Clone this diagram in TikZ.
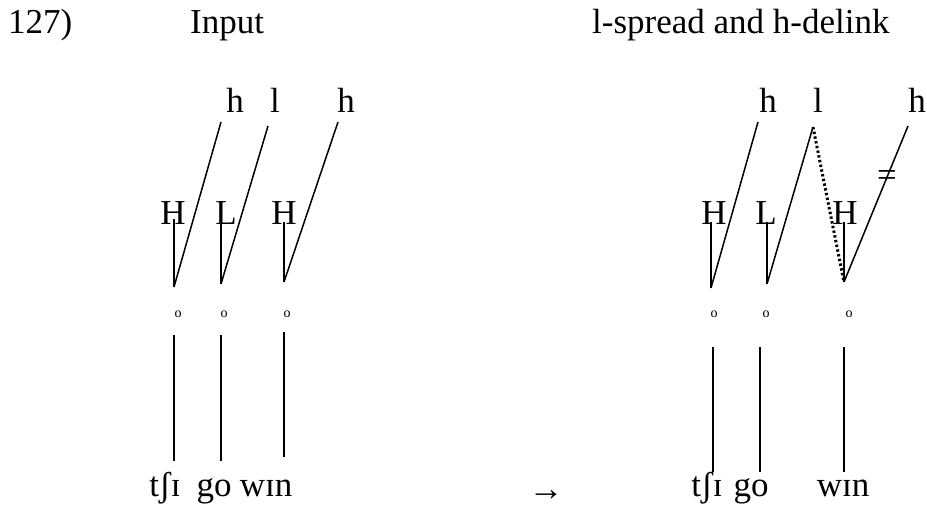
\documentclass[tikz,border=0pt]{standalone}
\usepackage{fontspec}
\setmainfont{Liberation Serif}
\usetikzlibrary{positioning}

\begin{document}
\begin{tikzpicture}[
  x=1pt,y=-1pt,
  lbl/.style={inner sep=0pt, anchor=base, font=\fontsize{35}{38}\selectfont},
  syl/.style={inner sep=0pt, anchor=base, font=\fontsize{14}{16}\selectfont},
  assoc/.style={line width=1.5pt},
  spread/.style={line width=3pt, dash pattern=on 2.4pt off 2.4pt}
]
\useasboundingbox (0,0) rectangle (927,506);
\node[lbl, anchor=base west] (num) at (8,33) {127)};
\node[lbl, anchor=base west] (input) at (190,33) {Input};
\node[lbl, anchor=base west] (output) at (592,33) {l-spread and h-delink};

\node[lbl] (ha) at (235,112) {h};
\node[lbl] (la) at (275,112) {l};
\node[lbl] (hb) at (346,112) {h};
\node[lbl] (Ha) at (173,224) {H};
\node[lbl] (La) at (226,224) {L};
\node[lbl] (Hb) at (284,224) {H};
\coordinate (ta) at (221,122); \coordinate (tb) at (268,126); \coordinate (tc) at (338,122);
\coordinate (ua) at (174,219); \coordinate (ub) at (221,217); \coordinate (uc) at (284,222);
\coordinate (ja) at (174,287); \coordinate (jb) at (221,284); \coordinate (jc) at (284,282);
\draw[assoc] (ta) -- (ja); \draw[assoc] (tb) -- (jb); \draw[assoc] (tc) -- (jc);
\draw[assoc] (ua) -- (ja); \draw[assoc] (ub) -- (jb); \draw[assoc] (uc) -- (jc);
\node[syl] (sa) at (178,317) {o};
\node[syl] (sb) at (224,317) {o};
\node[syl] (sc) at (287,317) {o};
\coordinate (pa) at (174,335); \coordinate (pb) at (221,335); \coordinate (pc) at (284,332);
\coordinate (qa) at (174,461); \coordinate (qb) at (221,461); \coordinate (qc) at (284,457);
\draw[assoc] (pa) -- (qa); \draw[assoc] (pb) -- (qb); \draw[assoc] (pc) -- (qc);
\node[lbl] (wa) at (165,496) {tʃɪ};
\node[lbl] (wb) at (214,496) {go};
\node[lbl] (wc) at (266,496) {wɪn};

\node[lbl] (arrow) at (546,500) {→};

\node[lbl] (hc) at (768,112) {h};
\node[lbl] (lb) at (818,112) {l};
\node[lbl] (hd) at (917,112) {h};
\node[lbl] (Hc) at (714,224) {H};
\node[lbl] (Lb) at (766,224) {L};
\node[lbl] (Hd) at (845,224) {H};
\coordinate (td) at (758,122); \coordinate (te) at (813,127); \coordinate (tf) at (908,126);
\coordinate (ud) at (711,222); \coordinate (ue) at (767,222); \coordinate (uf) at (844,222);
\coordinate (jd) at (711,288); \coordinate (je) at (767,284); \coordinate (jf) at (844,282);
\draw[assoc] (td) -- (jd); \draw[assoc] (te) -- (je); \draw[assoc] (tf) -- (jf);
\draw[assoc] (ud) -- (jd); \draw[assoc] (ue) -- (je); \draw[assoc] (uf) -- (jf);
\draw[spread] (te) -- (jf);
\node[lbl] (cut) at (887,186) {=};
\node[syl] (sd) at (714,317) {o};
\node[syl] (se) at (766,317) {o};
\node[syl] (sf) at (849,317) {o};
\coordinate (pd) at (713,347); \coordinate (pe) at (760,347); \coordinate (pf) at (844,347);
\coordinate (qd) at (713,472); \coordinate (qe) at (760,472); \coordinate (qf) at (844,472);
\draw[assoc] (pd) -- (qd); \draw[assoc] (pe) -- (qe); \draw[assoc] (pf) -- (qf);
\node[lbl] (wd) at (707,496) {tʃɪ};
\node[lbl] (we) at (751,496) {go};
\node[lbl] (wf) at (843,496) {wɪn};
\end{tikzpicture}
\end{document}
